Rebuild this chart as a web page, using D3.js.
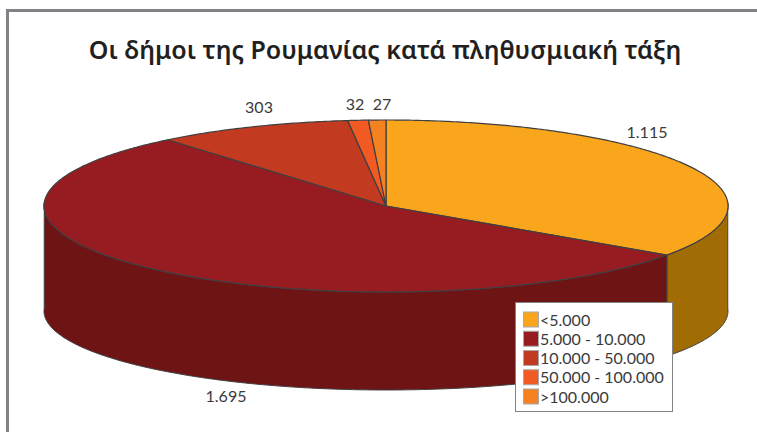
<!DOCTYPE html>
<html>
<head>
<meta charset="utf-8">
<script src="https://cdn.jsdelivr.net/npm/d3@7"></script>
<style>
  html, body { margin: 0; padding: 0; background: #fff; overflow: hidden; }
  text { font-family: "Noto Sans", "Open Sans", sans-serif; }
  text.small { font-family: Lato, "Noto Sans", sans-serif; }
</style>
</head>
<body>
<div class="chart"></div>
<script>
const titleText = 'Οι δήμοι της Ρουμανίας κατά πληθυσμιακή τάξη'
const categories = ['<5.000', '5.000 - 10.000', '10.000 - 50.000', '50.000 - 100.000', '>100.000']
const values = [1115, 1695, 303, 32, 27]
const valueLabels = ['1.115', '1.695', '303', '32', '27']
const topColors = ['#f9a61c', '#961c21', '#c23a1f', '#f15a22', '#f58220']
const sideColors = ['#a26c05', '#6e1414', '#7a2412', '#963814', '#995214']

const width = 757, height = 432
const cx = 386, cy = 206, rx = 342, ry = 86
const lowerCy = 311, lowerRy = 79 // the bottom rim is flatter than the top one
const edge = '#3f3f42'

const svg = d3.select('.chart').append('svg')
  .attr('width', width)
  .attr('height', height)
  .style('display', 'block')

// outer frame, cropped by the image on the right and bottom
svg.append('rect')
  .attr('x', 7.5).attr('y', 10.5)
  .attr('width', width + 20).attr('height', height + 20)
  .attr('fill', '#fff')
  .attr('stroke', '#808285')
  .attr('stroke-width', 3)

svg.append('text')
  .attr('x', 385).attr('y', 59)
  .attr('text-anchor', 'middle')
  .attr('font-size', 25)
  .attr('font-weight', 600)
  .attr('fill', '#231f20')
  .text(titleText)

// angle -> ellipse position, 0 at 12 o'clock going clockwise
const xScale = d3.scaleLinear().domain([-1, 1]).range([cx - rx, cx + rx])
const yScale = d3.scaleLinear().domain([-1, 1]).range([cy - ry, cy + ry])
const yLower = d3.scaleLinear().domain([-1, 1]).range([lowerCy - lowerRy, lowerCy + lowerRy])
// slight perspective skew of the original 3d pie
const warp = a => a - 0.038 * Math.sin(a)
const px = a => xScale(Math.sin(warp(a)))
const py = a => yScale(-Math.cos(warp(a)))
const pyLower = a => yLower(-Math.cos(warp(a)))

const arcs = d3.pie().sort(null).value(d => d)(values)
const line = d3.line()

function steps (a0, a1) {
  const n = Math.max(2, Math.ceil((a1 - a0) / 0.01))
  return d3.range(n + 1).map(i => a0 + (a1 - a0) * i / n)
}

// side wall, only the front half of the cylinder shows
const front = [Math.PI / 2, Math.PI * 3 / 2]
arcs.forEach((d, i) => {
  const a0 = Math.max(d.startAngle, front[0])
  const a1 = Math.min(d.endAngle, front[1])
  if (a1 <= a0) return
  const pts = steps(a0, a1)
  const upper = pts.map(a => [px(a), py(a)])
  const lower = pts.reverse().map(a => [px(a), pyLower(a)])
  svg.append('path')
    .attr('d', line(upper.concat(lower)) + 'Z')
    .attr('fill', sideColors[i])
    .attr('stroke', edge)
    .attr('stroke-width', 1)
})

// top face
arcs.forEach((d, i) => {
  const pts = steps(d.startAngle, d.endAngle).map(a => [px(a), py(a)])
  svg.append('path')
    .attr('d', line([[cx, cy]].concat(pts)) + 'Z')
    .attr('fill', topColors[i])
    .attr('stroke', edge)
    .attr('stroke-width', 1.2)
    .attr('stroke-linejoin', 'round')
})

const labelPos = [[647, 138], [226, 402], [259, 113], [355, 110], [382, 110]]
svg.selectAll('text.value')
  .data(valueLabels)
  .enter()
  .append('text')
    .attr('class', 'value small')
    .attr('x', (d, i) => labelPos[i][0])
    .attr('y', (d, i) => labelPos[i][1])
    .attr('text-anchor', 'middle')
    .attr('font-size', 16)
    .attr('fill', '#3a3a3c')
    .text(d => d)

// legend
const legend = svg.append('g').attr('transform', 'translate(515.5,302.5)')
legend.append('rect')
  .attr('width', 157).attr('height', 109)
  .attr('fill', '#fff')
  .attr('stroke', '#808285')
  .attr('stroke-width', 1)

const rowY = d3.scaleLinear().domain([0, 4]).range([9.5, 86.5])
const row = legend.selectAll('g')
  .data(categories)
  .enter()
  .append('g')
    .attr('transform', (d, i) => 'translate(8,' + rowY(i) + ')')

row.append('rect')
  .attr('width', 15).attr('height', 15)
  .attr('fill', (d, i) => topColors[i])
  .attr('stroke', '#a7a9ac')
  .attr('stroke-width', 1)

row.append('text')
  .attr('class', 'small')
  .attr('x', 16.5).attr('y', 13.5)
  .attr('font-size', 16)
  .attr('fill', '#3a3a3c')
  .text(d => d)
</script>
</body>
</html>
